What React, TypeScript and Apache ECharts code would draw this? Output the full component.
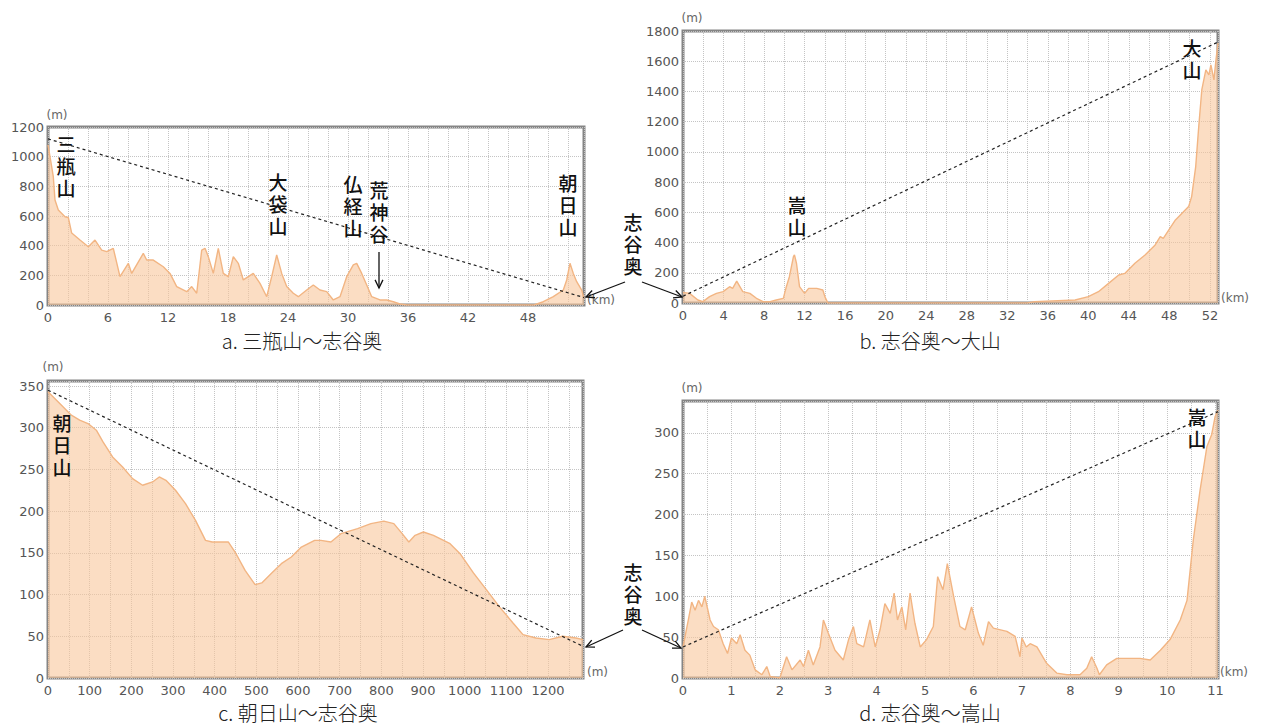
import React, { useEffect, useRef } from "react";
import * as echarts from "echarts";

// a. 三瓶山～志谷奥 (km, m)
const aDist = [0, 0.3, 0.53, 0.7, 1.03, 1.7, 2.03, 2.37, 3.2, 4.03, 4.7, 5.37, 5.87, 6.53, 7.2, 8.03, 8.37, 9.53, 9.87, 10.53, 11.53, 12.2, 12.87, 13.87, 14.37, 14.87, 15.37, 15.7, 16.03, 16.53, 17.03, 17.53, 18.03, 18.53, 19.03, 19.53, 20.53, 21.2, 21.87, 22.37, 22.87, 23.37, 23.87, 24.53, 25.03, 25.87, 26.53, 27.2, 27.87, 28.53, 29.2, 29.87, 30.53, 30.87, 31.37, 31.87, 32.37, 33.2, 33.87, 34.53, 35.2, 35.87, 48.6, 49.53, 50.53, 51.53, 51.87, 52.2, 52.53, 52.87, 53.37, 53.6];
const aElev = [1080, 960, 865, 708, 640, 595, 590, 485, 438, 393, 438, 370, 360, 382, 191, 281, 213, 348, 303, 303, 258, 213, 124, 90, 124, 79, 370, 382, 326, 213, 382, 213, 191, 326, 281, 169, 213, 146, 56, 191, 337, 213, 124, 79, 56, 101, 135, 101, 90, 34, 56, 191, 270, 281, 213, 135, 56, 34, 34, 22, 7, 0, 0, 22, 56, 101, 169, 281, 213, 157, 101, 45];
const aChord = [[0, 1120], [53.6, 50]];

// b. 志谷奥～大山 (km, m)
const bDist = [0, 0.65, 1.47, 1.96, 2.62, 3.3, 3.96, 4.6, 4.9, 5.3, 5.9, 6.6, 7.25, 7.9, 8.6, 9.2, 9.9, 10.2, 10.5, 10.9, 11.0, 11.2, 11.5, 12.0, 12.4, 13.2, 13.8, 14.0, 14.3, 34.0, 34.7, 38.7, 40.0, 41.0, 42.0, 43.0, 43.6, 44.6, 45.6, 46.6, 47.1, 47.4, 48.6, 49.9, 50.2, 50.6, 50.9, 51.2, 51.6, 51.9, 52.1, 52.4, 52.6, 52.8];
const bElev = [70, 64, 20, 9, 42, 64, 75, 108, 97, 145, 75, 64, 31, 9, 9, 20, 31, 108, 174, 307, 318, 263, 108, 64, 97, 97, 86, 42, 0, 0, 9, 20, 42, 75, 130, 185, 196, 263, 318, 384, 439, 428, 550, 638, 704, 903, 1168, 1410, 1543, 1510, 1576, 1477, 1610, 1720];
const bChord = [[0, 45], [52.8, 1727]];

// c. 朝日山～志谷奥 (m, m)
const cDist = [0, 36, 56, 76, 96, 116, 132, 155, 179, 203, 227, 251, 267, 283, 306, 330, 354, 378, 394, 433, 449, 473, 497, 513, 537, 560, 584, 608, 640, 655, 679, 703, 743, 775, 806, 830, 850, 866, 881, 901, 925, 965, 989, 1021, 1052, 1084, 1116, 1140, 1171, 1203, 1235, 1267, 1284];
const cElev = [343, 325, 315, 309, 305, 297, 283, 265, 253, 239, 231, 235, 241, 237, 225, 209, 189, 165, 163, 163, 151, 129, 112, 114, 126, 137, 145, 157, 165, 165, 163, 173, 179, 185, 188, 185, 173, 163, 171, 175, 171, 161, 149, 126, 106, 85, 66, 52, 48, 46, 50, 48, 46];
const cChord = [[0, 345], [1284, 38]];

// d. 志谷奥～嵩山 (km, m)
const dDist = [0, 0.11, 0.18, 0.25, 0.32, 0.39, 0.45, 0.56, 0.63, 0.73, 0.83, 0.92, 1.0, 1.11, 1.18, 1.28, 1.38, 1.49, 1.63, 1.73, 1.8, 2.0, 2.14, 2.25, 2.42, 2.49, 2.59, 2.69, 2.83, 2.9, 3.0, 3.14, 3.31, 3.42, 3.52, 3.59, 3.73, 3.86, 3.97, 4.07, 4.17, 4.28, 4.36, 4.43, 4.52, 4.6, 4.69, 4.79, 4.9, 5.03, 5.17, 5.26, 5.37, 5.46, 5.59, 5.72, 5.83, 5.96, 6.03, 6.1, 6.2, 6.31, 6.41, 6.69, 6.86, 6.96, 7.0, 7.09, 7.17, 7.31, 7.51, 7.72, 7.93, 8.2, 8.34, 8.44, 8.55, 8.6, 8.75, 8.96, 9.17, 9.44, 9.65, 9.86, 10.06, 10.27, 10.41, 10.54, 10.68, 10.82, 10.92, 10.99, 11.05];
const dElev = [38, 71, 93, 83, 95, 87, 100, 71, 63, 59, 42, 30, 49, 42, 53, 34, 28, 10, 4, 14, 2, 0, 26, 10, 22, 14, 34, 16, 38, 71, 55, 34, 22, 47, 63, 42, 38, 71, 38, 59, 91, 79, 104, 71, 87, 59, 104, 67, 38, 47, 63, 124, 108, 140, 100, 63, 59, 87, 71, 55, 40, 69, 61, 57, 51, 26, 49, 38, 42, 38, 18, 6, 4, 4, 12, 26, 12, 4, 16, 24, 24, 24, 22, 34, 47, 71, 95, 169, 230, 283, 298, 320, 328];
const dChord = [[0, 38], [11.05, 326]];

const captions = ["a. 三瓶山～志谷奥", "b. 志谷奥～大山", "c. 朝日山～志谷奥", "d. 志谷奥～嵩山"];

const zip = (xs: number[], ys: number[]) => xs.map((x, i) => [x, ys[i]]);
const isMult = (v: number, step: number) => Math.abs(v / step - Math.round(v / step)) < 1e-6;

const LABEL_FONT = "DejaVu Sans";
const CJK = "Noto Sans CJK JP";

function xAxis(gridIndex: number, max: number, interval: number, every: number) {
  return {
    type: "value", gridIndex, min: 0, max, interval,
    axisLine: { show: false }, axisTick: { show: false },
    axisLabel: { color: "#555", fontSize: 13, fontFamily: LABEL_FONT, margin: 6,
      formatter: (v: number) => (isMult(v, every) && v <= max - 0.001 * max ? String(v) : "") },
    splitLine: { show: true, lineStyle: { color: "#c4c4c4", type: "dotted", width: 1 } },
  };
}
function yAxis(gridIndex: number, max: number, interval: number) {
  return {
    type: "value", gridIndex, min: 0, max, interval,
    axisLine: { show: false }, axisTick: { show: false },
    axisLabel: { color: "#555", fontSize: 13, fontFamily: LABEL_FONT, margin: 4,
      formatter: (v: number) => (isMult(v, interval) ? String(v) : "") },
    splitLine: { show: true, lineStyle: { color: "#c4c4c4", type: "dotted", width: 1 } },
  };
}
function areaSeries(i: number, data: number[][]) {
  return {
    type: "line", xAxisIndex: i, yAxisIndex: i, data, symbol: "none", silent: true,
    lineStyle: { color: "#f2b583", width: 1.4 },
    areaStyle: { color: "#f8c69b", opacity: 0.6 }, z: 2,
  };
}
function chordSeries(i: number, data: number[][]) {
  return {
    type: "line", xAxisIndex: i, yAxisIndex: i, data, symbol: "none", silent: true,
    lineStyle: { color: "#222", width: 1.2, type: [3, 3] }, z: 3,
  };
}
// one vertical label: one text element per character, stacked
function vlabel(text: string, cx: number, top: number) {
  return {
    type: "group", z: 100,
    children: text.split("").map((ch, k) => ({
      type: "text", x: cx, y: top + k * 22 + 11, z: 100,
      style: { text: ch, fontSize: 19, fontFamily: CJK, fontWeight: 500,
        fill: "#111", textAlign: "center", textVerticalAlign: "middle" },
    })),
  };
}
function unit(text: string, x: number, y: number, align: string) {
  return {
    type: "text", x, y, z: 100,
    style: { text, fontSize: 12, fontFamily: LABEL_FONT, fill: "#666", textAlign: align, textVerticalAlign: "middle" },
  };
}
function caption(text: string, cx: number, cy: number) {
  return {
    type: "text", x: cx, y: cy, z: 100,
    style: { text, fontSize: 20, fontFamily: CJK, fontWeight: 300, fill: "#222", textAlign: "center", textVerticalAlign: "middle" },
  };
}
function arrow(x0: number, y0: number, x1: number, y1: number, head = 9) {
  const dx = x1 - x0, dy = y1 - y0, L = Math.hypot(dx, dy), ux = dx / L, uy = dy / L;
  const c = Math.cos(0.45), s = Math.sin(0.45);
  const w1 = [x1 - head * (ux * c - uy * s), y1 - head * (ux * s + uy * c)];
  const w2 = [x1 - head * (ux * c + uy * s), y1 - head * (-ux * s + uy * c)];
  return [
    { type: "line", z: 100, shape: { x1: x0, y1: y0, x2: x1, y2: y1 }, style: { stroke: "#111", lineWidth: 1.3 } },
    { type: "polyline", z: 100, shape: { points: [w1, [x1, y1], w2] }, style: { stroke: "#111", lineWidth: 1.3, fill: null } },
  ];
}

export default function App() {
  const ref = useRef<HTMLDivElement>(null);
  useEffect(() => {
    document.body.style.margin = "0";
    document.body.style.overflow = "hidden";
    const chart = echarts.init(ref.current!, null, { renderer: "svg" });
    const gridBase = { show: true, borderColor: "#858585", borderWidth: 3, backgroundColor: "transparent", containLabel: false };
    chart.setOption({
      animation: false,
      backgroundColor: "#fff",
      grid: [
        { ...gridBase, left: 48, top: 127, width: 536, height: 178 },
        { ...gridBase, left: 683, top: 31, width: 535, height: 272 },
        { ...gridBase, left: 48, top: 381, width: 535, height: 297 },
        { ...gridBase, left: 683, top: 401, width: 535, height: 277 },
      ],
      xAxis: [
        xAxis(0, 53.6, 2, 6),
        xAxis(1, 52.8, 2, 4),
        xAxis(2, 1284, 50, 100),
        xAxis(3, 11.05, 0.5, 1),
      ],
      yAxis: [
        yAxis(0, 1200, 200),
        yAxis(1, 1800, 200),
        yAxis(2, 356, 50),
        yAxis(3, 339, 50),
      ],
      series: [
        areaSeries(0, zip(aDist, aElev)), chordSeries(0, aChord),
        areaSeries(1, zip(bDist, bElev)), chordSeries(1, bChord),
        areaSeries(2, zip(cDist, cElev)), chordSeries(2, cChord),
        areaSeries(3, zip(dDist, dElev)), chordSeries(3, dChord),
      ],
      graphic: [
        unit("(m)", 57, 115, "center"),
        unit("(m)", 692, 18, "center"),
        unit("(m)", 53, 367, "center"),
        unit("(m)", 692, 388, "center"),
        unit("(km)", 587, 300, "left"),
        unit("(km)", 1221, 298, "left"),
        unit("(m)", 587, 672, "left"),
        unit("(km)", 1220, 672, "left"),
        caption(captions[0], 302, 340),
        caption(captions[1], 930, 340),
        caption(captions[2], 298, 712),
        caption(captions[3], 930, 712),
        vlabel("三瓶山", 66, 132),
        vlabel("大袋山", 278, 170),
        vlabel("仏経山", 353, 172),
        vlabel("荒神谷", 379, 178),
        vlabel("朝日山", 568, 171),
        vlabel("嵩山", 797, 193),
        vlabel("大山", 1192, 36),
        vlabel("朝日山", 62, 411),
        vlabel("嵩山", 1197, 405),
        vlabel("志谷奥", 633, 210),
        vlabel("志谷奥", 633, 560),
        ...arrow(379, 252, 379, 288),
        ...arrow(625, 282, 586, 297),
        ...arrow(642, 282, 682, 297),
        ...arrow(623, 630, 586, 647),
        ...arrow(642, 630, 681, 648),
      ],
    });
    return () => chart.dispose();
  }, []);
  return <div ref={ref} style={{ width: 1263, height: 726 }} />;
}
